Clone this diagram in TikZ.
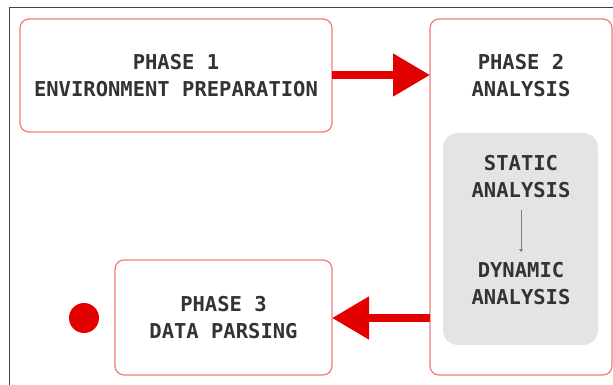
\documentclass[tikz,border=0pt]{standalone}
\usepackage{fontspec}
\setmonofont{DejaVu Sans Mono}
\usetikzlibrary{arrows.meta}
\definecolor{boxred}{HTML}{F47A7A}
\definecolor{arrred}{HTML}{E30000}
\definecolor{txt}{HTML}{333333}
\definecolor{panel}{HTML}{E4E4E4}
\definecolor{frame}{HTML}{444444}
\begin{document}
\begin{tikzpicture}[x=1pt,y=-1pt,
  phase/.style={draw=boxred,line width=1.2pt,rounded corners=9pt,fill=white},
  inner/.style={fill=panel,rounded corners=15pt},
  lbl/.style={text=txt,font=\ttfamily\bfseries\fontsize{20.5}{27}\selectfont,align=center,inner sep=0pt},
  bigarrow/.style={draw=arrred,line width=8pt,-{Triangle[length=37pt,width=41pt]}},
  smallarrow/.style={draw=gray,line width=0.8pt,-{Triangle[length=3pt,width=4pt]}}]
\useasboundingbox (0,0) rectangle (613,385);
\draw[frame,line width=1.2pt] (9.5,385) -- (9.5,7.5) -- (613,7.5);
% boxes
\draw[phase] (20,19) rectangle (332,132);
\node[lbl] (p1) at (176,76) {PHASE 1\\ENVIRONMENT PREPARATION};
\draw[phase] (430,19) rectangle (612,375);
\fill[inner] (443,133) rectangle (598,345);
\node[lbl] (p2) at (521,76) {PHASE 2\\ANALYSIS};
\node[lbl] (sa) at (521,177) {STATIC\\ANALYSIS};
\node[lbl] (da) at (521,284) {DYNAMIC\\ANALYSIS};
\draw[phase] (115,260) rectangle (332,375);
\node[lbl] (p3) at (223.5,318) {PHASE 3\\DATA PARSING};
\fill[arrred] (84,318) circle (15);
% connectors
\coordinate (a1s) at (332,75);
\coordinate (a1e) at (430,75);
\coordinate (a2s) at (430,318);
\coordinate (a2e) at (332,318);
\draw[bigarrow] (a1s) -- (a1e);
\draw[bigarrow] (a2s) -- (a2e);
\coordinate (ss) at (521,210);
\coordinate (se) at (521,252);
\draw[smallarrow] (ss) -- (se);
\end{tikzpicture}
\end{document}
